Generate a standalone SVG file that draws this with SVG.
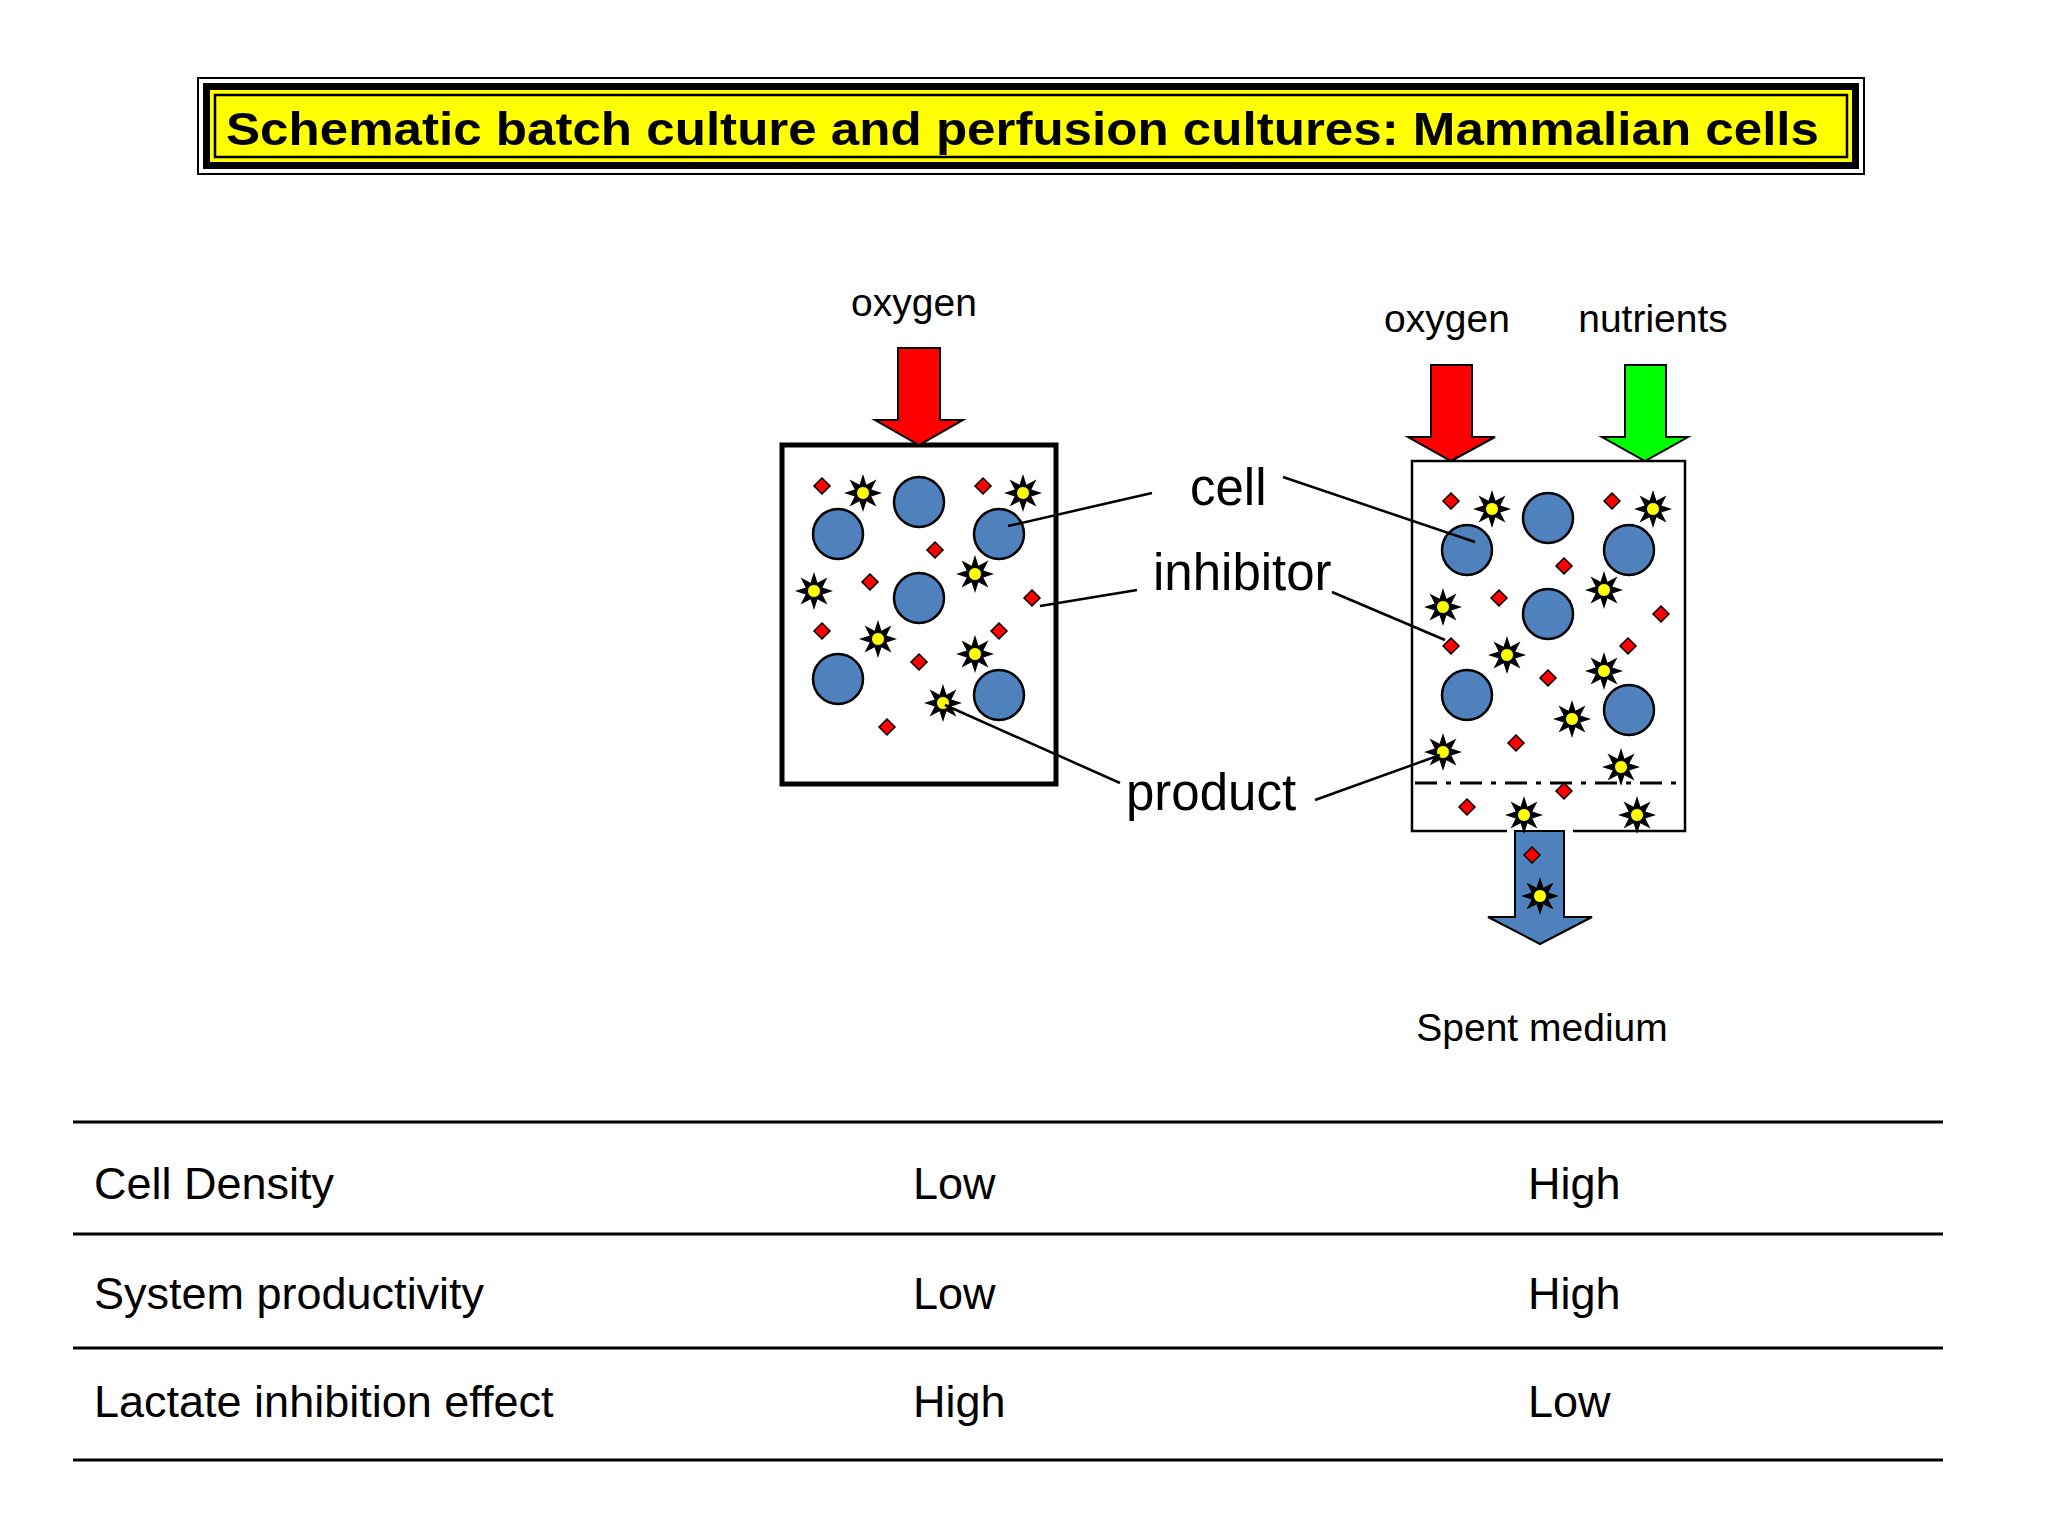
<svg xmlns="http://www.w3.org/2000/svg" xmlns:xlink="http://www.w3.org/1999/xlink" width="2048" height="1536" viewBox="0 0 2048 1536">
<style>
text{font-family:"Liberation Sans",Arial,sans-serif;fill:#000}
.lbl{font-size:39px;text-anchor:middle}
.big{font-size:51px}
.tbl{font-size:45px}
.cell{fill:#4f81bd;stroke:#000;stroke-width:2.5}
.box{fill:#fff;stroke:#000;stroke-width:5}
.ln{stroke:#000;stroke-width:2.5;fill:none}
.arr{stroke:#000;stroke-width:2}
</style>
<defs>
<g id="star"><polygon points="0,-19 3.44,-8.31 13.43,-13.43 8.31,-3.44 19,0 8.31,3.44 13.43,13.43 3.44,8.31 0,19 -3.44,8.31 -13.43,13.43 -8.31,3.44 -19,0 -8.31,-3.44 -13.43,-13.43 -3.44,-8.31" fill="#000"/><circle r="6.5" fill="#ffff00" stroke="#000" stroke-width="1"/></g>
<polygon id="dia" points="0,-8 8,0 0,8 -8,0" fill="#ff0000" stroke="#000" stroke-width="1.5"/>
</defs>
<rect width="2048" height="1536" fill="#fff"/>
<g id="title">
<rect x="198" y="78" width="1666" height="96" fill="#fff" stroke="#000" stroke-width="2"/>
<rect x="203" y="83" width="1656" height="86" fill="#000"/>
<rect x="210" y="90" width="1642" height="72" fill="#ffff00"/>
<rect x="215" y="95" width="1632" height="62" fill="#ffff00" stroke="#000" stroke-width="2.5"/>
<text x="226" y="145" font-size="46" font-weight="bold" textLength="1593" lengthAdjust="spacingAndGlyphs">Schematic batch culture and perfusion cultures: Mammalian cells</text>
</g>
<g id="batch">
<rect class="box" x="782" y="445" width="274" height="339"/>
<polygon class="arr" fill="#ff0000" points="898,348 940,348 940,420 963,420 919,445 875,420 898,420"/>
<text class="lbl" x="914" y="316">oxygen</text>
<circle class="cell" cx="838" cy="534" r="25"/><circle class="cell" cx="919" cy="502" r="25"/><circle class="cell" cx="999" cy="534" r="25"/>
<circle class="cell" cx="919" cy="598" r="25"/><circle class="cell" cx="838" cy="679" r="25"/><circle class="cell" cx="999" cy="695" r="25"/>
<use xlink:href="#star" x="863" y="493"/><use xlink:href="#star" x="1023" y="493"/><use xlink:href="#star" x="975" y="574"/><use xlink:href="#star" x="814" y="591"/><use xlink:href="#star" x="878" y="639"/><use xlink:href="#star" x="975" y="654"/><use xlink:href="#star" x="943" y="703"/>
<use xlink:href="#dia" x="822" y="486"/><use xlink:href="#dia" x="983" y="486"/><use xlink:href="#dia" x="935" y="550"/><use xlink:href="#dia" x="870" y="582"/><use xlink:href="#dia" x="1032" y="598"/><use xlink:href="#dia" x="822" y="631"/><use xlink:href="#dia" x="999" y="631"/><use xlink:href="#dia" x="919" y="662"/><use xlink:href="#dia" x="887" y="727"/>
</g>
<g id="perfusion">
<rect x="1412" y="461" width="273" height="370" fill="#fff"/>
<path class="ln" stroke-width="5" d="M1507,831 H1412 V461 H1685 V831 H1573"/>
<line x1="1415" y1="783" x2="1682" y2="783" stroke="#000" stroke-width="3" stroke-dasharray="22,9,5,9"/>
<polygon class="arr" fill="#ff0000" points="1431,365 1472,365 1472,437 1495,437 1451,461 1408,437 1431,437"/>
<polygon class="arr" fill="#00ff00" points="1625,365 1666,365 1666,437 1688,437 1645,461 1602,437 1625,437"/>
<polygon class="arr" fill="#4f81bd" points="1515,831 1564,831 1564,917 1592,917 1540,944 1488,917 1515,917"/>
<text class="lbl" x="1447" y="332">oxygen</text>
<text class="lbl" x="1653" y="332">nutrients</text>
<text class="lbl" x="1542" y="1041">Spent medium</text>
<circle class="cell" cx="1467" cy="550" r="25"/><circle class="cell" cx="1548" cy="518" r="25"/><circle class="cell" cx="1629" cy="550" r="25"/>
<circle class="cell" cx="1548" cy="614" r="25"/><circle class="cell" cx="1467" cy="695" r="25"/><circle class="cell" cx="1629" cy="710" r="25"/>
<use xlink:href="#star" x="1492" y="509"/><use xlink:href="#star" x="1653" y="509"/><use xlink:href="#star" x="1604" y="590"/><use xlink:href="#star" x="1443" y="607"/><use xlink:href="#star" x="1507" y="655"/><use xlink:href="#star" x="1604" y="671"/><use xlink:href="#star" x="1572" y="719"/><use xlink:href="#star" x="1443" y="752"/><use xlink:href="#star" x="1621" y="767"/><use xlink:href="#star" x="1524" y="815"/><use xlink:href="#star" x="1637" y="815"/><use xlink:href="#star" x="1540" y="896"/>
<use xlink:href="#dia" x="1451" y="501"/><use xlink:href="#dia" x="1612" y="501"/><use xlink:href="#dia" x="1564" y="566"/><use xlink:href="#dia" x="1499" y="598"/><use xlink:href="#dia" x="1661" y="614"/><use xlink:href="#dia" x="1451" y="646"/><use xlink:href="#dia" x="1628" y="646"/><use xlink:href="#dia" x="1548" y="678"/><use xlink:href="#dia" x="1516" y="743"/><use xlink:href="#dia" x="1564" y="791"/><use xlink:href="#dia" x="1467" y="807"/><use xlink:href="#dia" x="1532" y="855"/>
</g>
<g id="labels">
<text class="big" x="1190" y="505">cell</text>
<text class="big" x="1153" y="590">inhibitor</text>
<text class="big" x="1126" y="810">product</text>
</g>
<g id="connectors">
<line class="ln" x1="1008" y1="526" x2="1152" y2="493"/>
<line class="ln" x1="1283" y1="477" x2="1475" y2="542"/>
<line class="ln" x1="1040" y1="606" x2="1137" y2="590"/>
<line class="ln" x1="1332" y1="592" x2="1445" y2="640"/>
<line class="ln" x1="945" y1="705" x2="1120" y2="783"/>
<line class="ln" x1="1315" y1="800" x2="1440" y2="755"/>
</g>
<g id="table">
<g stroke="#000" stroke-width="3">
<line x1="73" y1="1122" x2="1943" y2="1122"/><line x1="73" y1="1234" x2="1943" y2="1234"/><line x1="73" y1="1348" x2="1943" y2="1348"/><line x1="73" y1="1460" x2="1943" y2="1460"/>
</g>
<text class="tbl" x="94" y="1199">Cell Density</text><text class="tbl" x="913" y="1199">Low</text><text class="tbl" x="1528" y="1199">High</text>
<text class="tbl" x="94" y="1309">System productivity</text><text class="tbl" x="913" y="1309">Low</text><text class="tbl" x="1528" y="1309">High</text>
<text class="tbl" x="94" y="1417">Lactate inhibition effect</text><text class="tbl" x="913" y="1417">High</text><text class="tbl" x="1528" y="1417">Low</text>
</g>
</svg>
